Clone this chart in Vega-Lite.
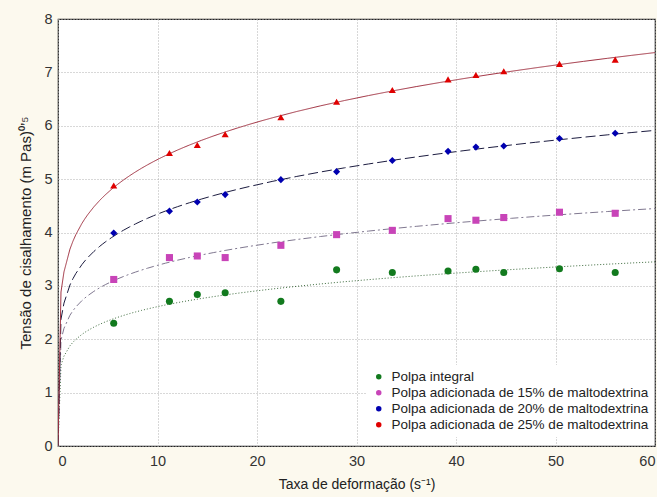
{
  "$schema": "https://vega.github.io/schema/vega-lite/v6.json",
  "width": 597,
  "height": 427,
  "autosize": {"type": "none"},
  "padding": {"left": 58, "top": 19, "right": 2, "bottom": 51},
  "background": "#fcf9ee",
  "config": {
    "view": {"fill": "white", "stroke": "#222222", "strokeWidth": 1.2},
    "font": "Liberation Sans",
    "axis": {
      "grid": true,
      "gridColor": "#b0b0b0",
      "gridDash": [1, 2],
      "gridWidth": 1,
      "domain": false,
      "ticks": false,
      "labelFont": "Liberation Sans",
      "labelFontSize": 14.5,
      "labelColor": "#333333",
      "titleFont": "Liberation Sans",
      "titleFontSize": 14,
      "titleFontWeight": "normal",
      "titleColor": "#222222"
    }
  },
  "data": {
    "values": [
      {"serie": "Polpa integral", "x": 5.6, "y": 2.30},
      {"serie": "Polpa integral", "x": 11.2, "y": 2.71},
      {"serie": "Polpa integral", "x": 14.0, "y": 2.84},
      {"serie": "Polpa integral", "x": 16.8, "y": 2.87},
      {"serie": "Polpa integral", "x": 22.4, "y": 2.71},
      {"serie": "Polpa integral", "x": 28.0, "y": 3.30},
      {"serie": "Polpa integral", "x": 33.6, "y": 3.25},
      {"serie": "Polpa integral", "x": 39.2, "y": 3.28},
      {"serie": "Polpa integral", "x": 42.0, "y": 3.31},
      {"serie": "Polpa integral", "x": 44.8, "y": 3.25},
      {"serie": "Polpa integral", "x": 50.4, "y": 3.32},
      {"serie": "Polpa integral", "x": 56.0, "y": 3.25},
      {"serie": "Polpa adicionada de 15% de maltodextrina", "x": 5.6, "y": 3.12},
      {"serie": "Polpa adicionada de 15% de maltodextrina", "x": 11.2, "y": 3.53},
      {"serie": "Polpa adicionada de 15% de maltodextrina", "x": 14.0, "y": 3.56},
      {"serie": "Polpa adicionada de 15% de maltodextrina", "x": 16.8, "y": 3.53},
      {"serie": "Polpa adicionada de 15% de maltodextrina", "x": 22.4, "y": 3.76},
      {"serie": "Polpa adicionada de 15% de maltodextrina", "x": 28.0, "y": 3.96},
      {"serie": "Polpa adicionada de 15% de maltodextrina", "x": 33.6, "y": 4.04},
      {"serie": "Polpa adicionada de 15% de maltodextrina", "x": 39.2, "y": 4.26},
      {"serie": "Polpa adicionada de 15% de maltodextrina", "x": 42.0, "y": 4.23},
      {"serie": "Polpa adicionada de 15% de maltodextrina", "x": 44.8, "y": 4.28},
      {"serie": "Polpa adicionada de 15% de maltodextrina", "x": 50.4, "y": 4.38},
      {"serie": "Polpa adicionada de 15% de maltodextrina", "x": 56.0, "y": 4.36},
      {"serie": "Polpa adicionada de 20% de maltodextrina", "x": 5.6, "y": 3.99},
      {"serie": "Polpa adicionada de 20% de maltodextrina", "x": 11.2, "y": 4.40},
      {"serie": "Polpa adicionada de 20% de maltodextrina", "x": 14.0, "y": 4.57},
      {"serie": "Polpa adicionada de 20% de maltodextrina", "x": 16.8, "y": 4.71},
      {"serie": "Polpa adicionada de 20% de maltodextrina", "x": 22.4, "y": 4.99},
      {"serie": "Polpa adicionada de 20% de maltodextrina", "x": 28.0, "y": 5.14},
      {"serie": "Polpa adicionada de 20% de maltodextrina", "x": 33.6, "y": 5.35},
      {"serie": "Polpa adicionada de 20% de maltodextrina", "x": 39.2, "y": 5.52},
      {"serie": "Polpa adicionada de 20% de maltodextrina", "x": 42.0, "y": 5.60},
      {"serie": "Polpa adicionada de 20% de maltodextrina", "x": 44.8, "y": 5.62},
      {"serie": "Polpa adicionada de 20% de maltodextrina", "x": 50.4, "y": 5.76},
      {"serie": "Polpa adicionada de 20% de maltodextrina", "x": 56.0, "y": 5.86},
      {"serie": "Polpa adicionada de 25% de maltodextrina", "x": 5.6, "y": 4.88},
      {"serie": "Polpa adicionada de 25% de maltodextrina", "x": 11.2, "y": 5.49},
      {"serie": "Polpa adicionada de 25% de maltodextrina", "x": 14.0, "y": 5.64},
      {"serie": "Polpa adicionada de 25% de maltodextrina", "x": 16.8, "y": 5.84},
      {"serie": "Polpa adicionada de 25% de maltodextrina", "x": 22.4, "y": 6.16},
      {"serie": "Polpa adicionada de 25% de maltodextrina", "x": 28.0, "y": 6.45},
      {"serie": "Polpa adicionada de 25% de maltodextrina", "x": 33.6, "y": 6.67},
      {"serie": "Polpa adicionada de 25% de maltodextrina", "x": 39.2, "y": 6.87},
      {"serie": "Polpa adicionada de 25% de maltodextrina", "x": 42.0, "y": 6.95},
      {"serie": "Polpa adicionada de 25% de maltodextrina", "x": 44.8, "y": 7.02},
      {"serie": "Polpa adicionada de 25% de maltodextrina", "x": 50.4, "y": 7.16},
      {"serie": "Polpa adicionada de 25% de maltodextrina", "x": 56.0, "y": 7.24}
    ]
  },
  "layer": [
    {
      "transform": [
        {"regression": "y", "on": "x", "groupby": ["serie"], "method": "pow", "extent": [0, 60]}
      ],
      "mark": {"type": "line", "strokeWidth": 1, "clip": true},
      "encoding": {
        "x": {
          "field": "x", "type": "quantitative",
          "scale": {"domain": [0, 60], "nice": false},
          "axis": {"values": [0, 10, 20, 30, 40, 50, 60], "title": "Taxa de deformação (s⁻¹)", "labelPadding": 8, "titlePadding": 10}
        },
        "y": {
          "field": "y", "type": "quantitative",
          "scale": {"domain": [0, 8], "nice": false},
          "axis": {"values": [0, 1, 2, 3, 4, 5, 6, 7, 8], "title": "Tensão de cisalhamento (m Pas)⁰’⁵", "labelPadding": 6, "titlePadding": 10, "titleFontSize": 15}
        },
        "color": {
          "field": "serie", "type": "nominal",
          "scale": {
            "domain": ["Polpa integral", "Polpa adicionada de 15% de maltodextrina", "Polpa adicionada de 20% de maltodextrina", "Polpa adicionada de 25% de maltodextrina"],
            "range": ["#3c6a3c", "#807890", "#1c1c40", "#a03040"]
          },
          "legend": null
        },
        "strokeDash": {
          "field": "serie", "type": "nominal",
          "scale": {
            "domain": ["Polpa integral", "Polpa adicionada de 15% de maltodextrina", "Polpa adicionada de 20% de maltodextrina", "Polpa adicionada de 25% de maltodextrina"],
            "range": [[1, 2], [8, 3, 2, 3], [10, 4], [1, 0]]
          },
          "legend": null
        }
      }
    },
    {
      "mark": {"type": "point", "filled": true, "opacity": 1, "size": 50},
      "encoding": {
        "x": {"field": "x", "type": "quantitative"},
        "y": {"field": "y", "type": "quantitative"},
        "color": {
          "field": "serie", "type": "nominal",
          "scale": {
            "domain": ["Polpa integral", "Polpa adicionada de 15% de maltodextrina", "Polpa adicionada de 20% de maltodextrina", "Polpa adicionada de 25% de maltodextrina"],
            "range": ["#127a1e", "#c844b8", "#0000b0", "#e00000"]
          },
          "legend": {
            "title": null,
            "orient": "none",
            "legendX": 309,
            "legendY": 346,
            "fillColor": "white",
            "padding": 5,
            "labelFont": "Liberation Sans",
            "labelFontSize": 13.5,
            "labelColor": "#222222",
            "symbolSize": 30,
            "rowPadding": 1,
            "labelOffset": 6,
            "labelLimit": 400
          }
        },
        "shape": {
          "field": "serie", "type": "nominal",
          "scale": {
            "domain": ["Polpa integral", "Polpa adicionada de 15% de maltodextrina", "Polpa adicionada de 20% de maltodextrina", "Polpa adicionada de 25% de maltodextrina"],
            "range": ["circle", "square", "diamond", "triangle-up"]
          },
          "legend": {
            "title": null,
            "orient": "none",
            "legendX": 309,
            "legendY": 346,
            "fillColor": "white",
            "padding": 5,
            "labelFont": "Liberation Sans",
            "labelFontSize": 13.5,
            "labelColor": "#222222",
            "symbolSize": 30,
            "rowPadding": 1,
            "labelOffset": 6,
            "labelLimit": 400
          }
        }
      }
    }
  ],
  "resolve": {"scale": {"color": "independent"}}
}
